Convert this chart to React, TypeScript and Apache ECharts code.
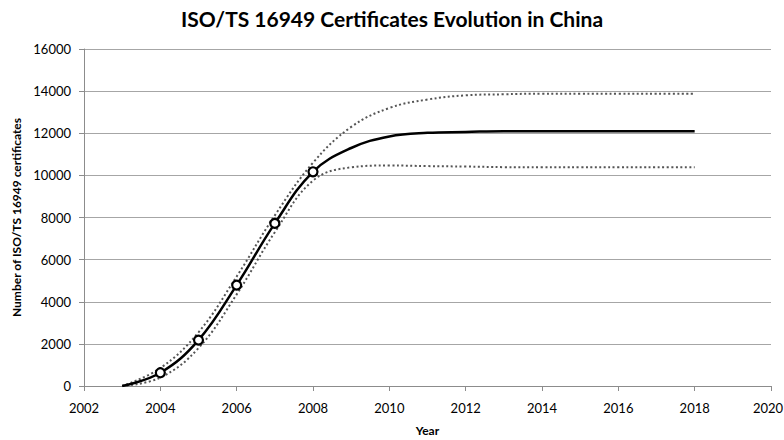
import React, { useEffect, useRef } from "react";
import * as echarts from "echarts";

const years = [2003, 2004, 2005, 2006, 2007, 2008, 2009, 2010, 2011, 2012, 2013, 2014, 2015, 2016, 2017, 2018];
const observed = [0, 630, 2180, 4790, 7720, 10170, 11300, 11850, 12020, 12060, 12100, 12100, 12100, 12100, 12100, 12100];
const upper = [0, 850, 2550, 5200, 8100, 10600, 12300, 13200, 13600, 13800, 13850, 13880, 13880, 13880, 13880, 13880];
const lower = [0, 400, 1800, 4350, 7300, 9750, 10380, 10470, 10440, 10420, 10390, 10380, 10380, 10380, 10380, 10380];
const markerYears = [2004, 2005, 2006, 2007, 2008];
const markerValues = [630, 2180, 4790, 7720, 10170];

const FONT = "Lato, 'Open Sans', sans-serif";

export default function App() {
  const ref = useRef<HTMLDivElement>(null);
  useEffect(() => {
    if (!ref.current) return;
    const chart = echarts.init(ref.current, undefined, { renderer: "svg" });
    const pair = (vals: number[]) => years.map((y, i) => [y, vals[i]]);
    chart.setOption({
      animation: false,
      backgroundColor: "#ffffff",
      title: {
        text: "ISO/TS 16949 Certificates Evolution in China",
        left: "center",
        top: 3,
        textStyle: { fontFamily: FONT, fontWeight: "bold", fontSize: 21, color: "#000" },
      },
      grid: { left: 84, right: 13, top: 49, bottom: 54, outerBoundsMode: "none", containLabel: false },
      xAxis: {
        type: "value",
        min: 2002,
        max: 2020,
        interval: 2,
        name: "Year",
        nameLocation: "middle",
        nameGap: 38,
        nameTextStyle: { fontFamily: FONT, fontWeight: "bold", fontSize: 12, color: "#000" },
        axisLine: { show: true, lineStyle: { color: "#8c8c8c", width: 1 } },
        axisTick: { show: true, length: 5, lineStyle: { color: "#8c8c8c" } },
        axisLabel: {
          fontFamily: FONT,
          fontSize: 13,
          color: "#000",
          margin: 15,
          formatter: (v: number) => (v === 2020 ? "{last|" + v + "}" : String(v)),
          rich: { last: { fontFamily: FONT, fontSize: 13, color: "#000", padding: [0, 6, 0, 0] } },
        },
        splitLine: { show: false },
      },
      yAxis: {
        type: "value",
        min: 0,
        max: 16000,
        interval: 2000,
        name: "Number of ISO/TS 16949 certificates",
        nameLocation: "middle",
        nameGap: 62,
        nameTextStyle: { fontFamily: FONT, fontWeight: "bold", fontSize: 12, color: "#000" },
        axisLine: { show: true, lineStyle: { color: "#8c8c8c", width: 1 } },
        axisTick: { show: true, length: 5, lineStyle: { color: "#8c8c8c" } },
        axisLabel: { fontFamily: FONT, fontSize: 13, color: "#000", margin: 13, formatter: (v: number) => String(v) },
        splitLine: { show: true, lineStyle: { color: "#a6a6a6", width: 1 } },
      },
      series: [
        {
          name: "Upper",
          type: "line",
          data: pair(upper),
          smooth: 0.4,
          showSymbol: false,
          lineStyle: { color: "#555", width: 2, type: [2, 2.5] },
        },
        {
          name: "Lower",
          type: "line",
          data: pair(lower),
          smooth: 0.4,
          showSymbol: false,
          lineStyle: { color: "#555", width: 2, type: [2, 2.5] },
        },
        {
          name: "Fitted",
          type: "line",
          data: pair(observed),
          smooth: 0.4,
          showSymbol: false,
          lineStyle: { color: "#000", width: 2.5 },
        },
        {
          name: "Observed",
          type: "scatter",
          data: markerYears.map((y, i) => [y, markerValues[i]]),
          symbol: "circle",
          symbolSize: 9,
          itemStyle: { color: "#fff", borderColor: "#000", borderWidth: 2.2, opacity: 1 },
          z: 5,
        },
      ],
    });
    return () => chart.dispose();
  }, []);
  return <div ref={ref} style={{ width: 784, height: 440, position: "absolute", left: 0, top: 0 }} />;
}
